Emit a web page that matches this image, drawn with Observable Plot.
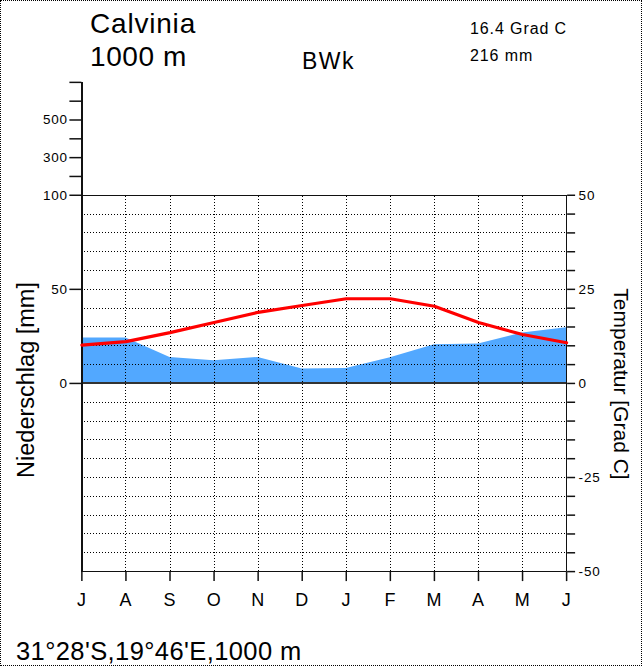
<!DOCTYPE html>
<html>
<head>
<meta charset="utf-8">
<script src="https://cdn.jsdelivr.net/npm/d3@7"></script>
<script src="https://cdn.jsdelivr.net/npm/@observablehq/plot@0.6"></script>
<style>
  html, body { margin: 0; padding: 0; background: #fff; }
  #wrap { position: relative; width: 642px; height: 666px; overflow: hidden; box-sizing: border-box;
          border: 1px dotted #000; font-family: "Liberation Sans", Arial, sans-serif; color: #000; }
  #chart { position: absolute; left: -1px; top: -1px; }
  .t { position: absolute; white-space: nowrap; line-height: 1; }
  #chart svg text { letter-spacing: 0.8px; }
  #chart svg line { shape-rendering: crispEdges; }
</style>
</head>
<body>
<div id="wrap">
  <div id="chart"></div>
  <div class="t" id="title1" style="left:89px; top:9px; font-size:28px; letter-spacing:0.8px;">Calvinia</div>
  <div class="t" id="title2" style="left:89px; top:42px; font-size:28px; letter-spacing:0.6px;">1000 m</div>
  <div class="t" id="climate" style="left:301px; top:49px; font-size:23px; letter-spacing:1.5px;">BWk</div>
  <div class="t" id="meanT" style="left:469px; top:20px; font-size:16px; letter-spacing:0.9px;">16.4 Grad C</div>
  <div class="t" id="sumP" style="left:469px; top:47px; font-size:16px; letter-spacing:0.9px;">216 mm</div>
  <div class="t" id="ylabL" style="left:26px; top:379px; font-size:23.5px; transform:translate(-50%,-50%) rotate(-90deg);">Niederschlag [mm]</div>
  <div class="t" id="ylabR" style="left:620px; top:383px; font-size:21px; transform:translate(-50%,-50%) rotate(90deg);">Temperatur [Grad C]</div>
  <div class="t" id="coords" style="left:15px; top:638px; font-size:25.5px; letter-spacing:0.4px;">31°28'S,19°46'E,1000 m</div>
</div>
<script>
// ---- data (southern hemisphere: July .. June) ----
const months = ["J", "A", "S", "O", "N", "D", "J", "F", "M", "A", "M", "J"];
const temperature = [10.2, 11.1, 13.5, 16.2, 18.9, 20.7, 22.5, 22.5, 20.5, 16.2, 13.0, 10.8]; // °C
const precipitation = [24.2, 24.2, 13.8, 12.0, 13.8, 7.7, 8.0, 13.6, 20.6, 20.9, 26.8, 29.6]; // mm
const tempTickValues = d3.range(-50, 51, 5);
const tempTickLabels = [-50, -25, 0, 25, 50];
const precipTickValues = [0, 50, 100, 200, 300, 400, 500, 600, 700];
const precipTickLabels = [0, 50, 100, 300, 500];

// Walter–Lieth convention: 10 °C = 20 mm up to 100 mm, above that 1 °C = 20 mm
const mmToY = mm => mm <= 100 ? mm / 2 : 50 + (mm - 100) / 20;
const yToMm = y => y <= 50 ? y * 2 : 100 + (y - 50) * 20;

const data = months.map((m, i) => ({i, month: m, t: temperature[i], p: mmToY(precipitation[i])}));
const gridY = tempTickValues.filter(v => v !== 0 && Math.abs(v) !== 50);
const gridX = d3.range(1, months.length - 1);
const last = months.length - 1;

const ink = "#111";

const chart = Plot.plot({
  width: 642,
  height: 666,
  marginLeft: 81.5,
  marginRight: 75,
  marginTop: 82,
  marginBottom: 94,
  style: {fontFamily: "Liberation Sans, Arial, sans-serif", fontSize: "13px", background: "transparent", color: "#000"},
  x: {domain: [0, last]},
  y: {domain: [-50, 80]},
  marks: [
    // precipitation
    Plot.areaY(data, {x: "i", y1: 0, y2: "p", fill: "#52a8ff", curve: "linear"}),
    // dotted grid
    Plot.ruleY(gridY, {x1: 0, x2: last, stroke: "#000", strokeWidth: 1, strokeDasharray: "1,2"}),
    Plot.ruleX(gridX, {y1: -50, y2: 50, stroke: "#000", strokeWidth: 1, strokeDasharray: "1,2"}),
    // frame lines
    Plot.ruleY([50, -50], {x1: 0, x2: last, stroke: ink, strokeWidth: 1.5}),
    Plot.ruleY([0], {x1: 0, x2: last, stroke: "#333", strokeWidth: 2}),
    Plot.ruleX([0], {y1: -50, y2: 80, stroke: ink, strokeWidth: 1.5}),
    Plot.ruleX([last], {y1: -50, y2: 50, stroke: ink, strokeWidth: 1.5}),
    // temperature
    Plot.line(data, {x: "i", y: "t", stroke: "#ff0000", strokeWidth: 3.2}),
    // axes
    Plot.axisX({
      ticks: d3.range(months.length),
      tickFormat: i => months[i],
      tickSize: 10,
      tickPadding: 12,
      fontSize: 18,
      stroke: ink,
      strokeWidth: 1.5,
      label: null
    }),
    Plot.axisY({
      anchor: "left",
      ticks: precipTickValues.map(mmToY),
      tickFormat: v => { const mm = Math.round(yToMm(v)); return precipTickLabels.includes(mm) ? String(mm) : ""; },
      tickSize: 12,
      tickPadding: 2,
      fontSize: 13.5,
      stroke: ink,
      strokeWidth: 1.5,
      label: null
    }),
    Plot.axisY({
      anchor: "right",
      ticks: tempTickValues,
      tickFormat: v => tempTickLabels.includes(v) ? String(v) : "",
      tickSize: 8,
      tickPadding: 4,
      fontSize: 13.5,
      stroke: ink,
      strokeWidth: 1.5,
      label: null
    })
  ]
});
document.getElementById("chart").appendChild(chart);
</script>
</body>
</html>
